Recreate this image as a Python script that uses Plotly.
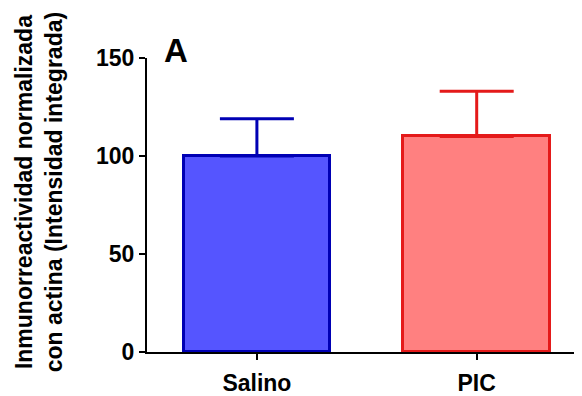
import plotly.graph_objects as go

categories = ["Salino", "PIC"]
means = [100, 110]
errors = [19, 23]
fill_colors = ["#5555FF", "#FF8080"]
line_colors = ["#0000B4", "#E41A1A"]
y_ticks = [0, 50, 100, 150]

FONT = "Liberation Sans, Arial, sans-serif"

fig = go.Figure()
for i, c in enumerate(categories):
    fig.add_trace(go.Bar(
        x=[i], y=[means[i]], width=0.667,
        marker=dict(color=fill_colors[i], line=dict(color=line_colors[i], width=3)),
        error_y=dict(type="data", array=[errors[i]], arrayminus=[0], symmetric=False,
                     color=line_colors[i], thickness=3, width=37),
        showlegend=False,
    ))

fig.update_layout(
    width=582, height=396,
    margin=dict(l=139, r=10, t=50, b=52),
    plot_bgcolor="white", paper_bgcolor="white",
    font=dict(family=FONT, color="black"),
    bargap=0,
)
fig.update_xaxes(
    range=[-0.5, 1.47], tickmode="array", tickvals=[0, 1], ticktext=categories,
    showline=True, linecolor="black", linewidth=2, ticks="outside", ticklen=6,
    tickwidth=2, tickcolor="black", showgrid=False, zeroline=False,
    ticklabelstandoff=3, automargin=False,
    tickfont=dict(size=23, family=FONT, weight="bold"),
)
fig.update_yaxes(
    range=[0, 150], tickvals=y_ticks, showline=True, linecolor="black", linewidth=2,
    ticks="outside", ticklen=6, tickwidth=2, tickcolor="black", showgrid=False,
    zeroline=False, automargin=False,
    tickfont=dict(size=23, family=FONT, weight="bold"),
)
fig.add_annotation(
    text="Inmunorreactividad normalizada<br>con actina (Intensidad integrada)",
    xref="paper", yref="paper", x=-0.249, y=0.544, xanchor="center", yanchor="middle",
    textangle=-90, showarrow=False,
    font=dict(size=23, family=FONT, weight="bold"),
)
fig.add_annotation(
    text="A", xref="paper", yref="paper", x=0.067, y=1.027, xanchor="center", yanchor="middle",
    showarrow=False, font=dict(size=33, family=FONT, weight="bold"),
)
fig.write_html("out.html")
